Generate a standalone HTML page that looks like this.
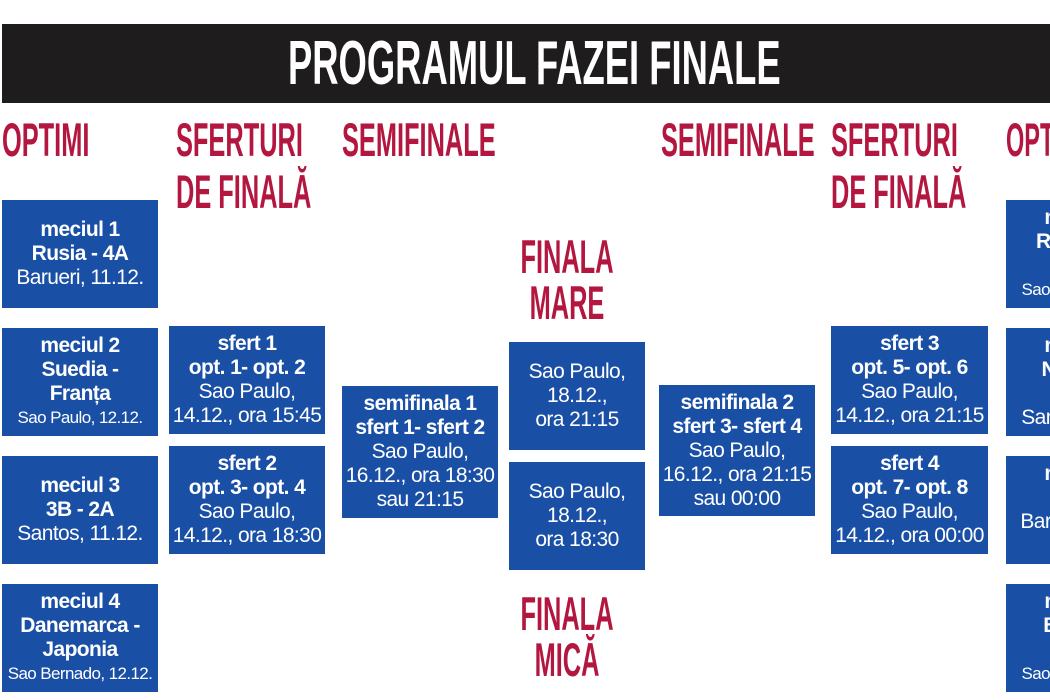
<!DOCTYPE html>
<html><head><meta charset="utf-8"><style>
body{margin:0;width:1050px;height:700px;background:#fff;position:relative;overflow:hidden;font-family:"Liberation Sans",sans-serif}
.bar{position:absolute;left:2px;top:24px;width:1048px;height:79px;background:#1e1c1c}
.title{position:absolute;left:288px;top:26px;font-weight:bold;font-size:62px;color:#fff;transform:scaleX(0.587);transform-origin:left top;white-space:nowrap;line-height:76px}
.h{position:absolute;color:#b3163f;font-weight:bold;font-size:47px;line-height:52px;transform:scaleX(0.54);transform-origin:left top;white-space:nowrap}
.hc{position:absolute;color:#b3163f;font-weight:bold;font-size:47px;line-height:46px;white-space:nowrap;text-align:center;width:300px;transform:scaleX(0.54)}
.b{position:absolute;background:#1a4fa6;color:#fff;display:flex;flex-direction:column;justify-content:center;align-items:center;text-align:center;overflow:hidden;font-size:21px;line-height:24px;letter-spacing:-0.6px;white-space:nowrap}
.b b{font-weight:bold}
.s{font-size:17px}
.clip{position:absolute;left:1006px;width:44px;height:108px;overflow:hidden}
.clip .b{left:0;top:0;width:156px;height:108px}
</style></head><body>
<div class="bar"></div>
<div class="title">PROGRAMUL FAZEI FINALE</div>
<div class="h" style="left:2px;top:114px">OPTIMI</div>
<div class="h" style="left:176px;top:114px">SFERTURI<br>DE FINALĂ</div>
<div class="h" style="left:342px;top:114px">SEMIFINALE</div>
<div class="h" style="left:661px;top:114px">SEMIFINALE</div>
<div class="h" style="left:831px;top:114px">SFERTURI<br>DE FINALĂ</div>
<div class="h" style="left:1006px;top:114px;transform:scaleX(0.5)">OPT</div>
<div class="hc" style="left:417px;top:234px">FINALA<br>MARE</div>
<div class="hc" style="left:417px;top:591px">FINALA<br>MICĂ</div>

<div class="b" style="left:2px;top:200px;width:156px;height:108px"><b>meciul 1</b><b>Rusia - 4A</b><span>Barueri, 11.12.</span></div>
<div class="b" style="left:2px;top:328px;width:156px;height:108px"><b>meciul 2</b><b>Suedia -</b><b>Franța</b><span class="s">Sao Paulo, 12.12.</span></div>
<div class="b" style="left:2px;top:456px;width:156px;height:108px"><b>meciul 3</b><b>3B - 2A</b><span>Santos, 11.12.</span></div>
<div class="b" style="left:2px;top:584px;width:156px;height:108px"><b>meciul 4</b><b>Danemarca -</b><b>Japonia</b><span class="s">Sao Bernado, 12.12.</span></div>

<div class="b" style="left:169px;top:326px;width:156px;height:108px"><b>sfert 1</b><b>opt. 1- opt. 2</b><span>Sao Paulo,</span><span>14.12., ora 15:45</span></div>
<div class="b" style="left:169px;top:446px;width:156px;height:108px"><b>sfert 2</b><b>opt. 3- opt. 4</b><span>Sao Paulo,</span><span>14.12., ora 18:30</span></div>

<div class="b" style="left:342px;top:386px;width:156px;height:132px"><b>semifinala 1</b><b>sfert 1- sfert 2</b><span>Sao Paulo,</span><span>16.12., ora 18:30</span><span>sau 21:15</span></div>

<div class="b" style="left:509px;top:342px;width:136px;height:108px"><span>Sao Paulo,</span><span>18.12.,</span><span>ora 21:15</span></div>
<div class="b" style="left:509px;top:462px;width:136px;height:108px"><span>Sao Paulo,</span><span>18.12.,</span><span>ora 18:30</span></div>

<div class="b" style="left:659px;top:385px;width:156px;height:131px"><b>semifinala 2</b><b>sfert 3- sfert 4</b><span>Sao Paulo,</span><span>16.12., ora 21:15</span><span>sau 00:00</span></div>

<div class="b" style="left:831px;top:326px;width:157px;height:108px"><b>sfert 3</b><b>opt. 5- opt. 6</b><span>Sao Paulo,</span><span>14.12., ora 21:15</span></div>
<div class="b" style="left:831px;top:446px;width:157px;height:108px"><b>sfert 4</b><b>opt. 7- opt. 8</b><span>Sao Paulo,</span><span>14.12., ora 00:00</span></div>

<div class="clip" style="top:200px"><div class="b"><b>meciul 5</b><b>România -</b><b>Cuba</b><span class="s">Sao Paulo, 12.12.</span></div></div>
<div class="clip" style="top:328px"><div class="b"><b>meciul 6</b><b>Norvegia</b><b>&nbsp;</b><span>Santos, 11.12.</span></div></div>
<div class="clip" style="top:456px"><div class="b"><b>meciul 7</b><b>3A - 2B</b><span>Barueri, 11.12.</span><span>&nbsp;</span></div></div>
<div class="clip" style="top:584px"><div class="b"><b>meciul 8</b><b>Brazilia -</b><b>Cuba</b><span class="s">Sao Paulo, 12.12.</span></div></div>
</body></html>
